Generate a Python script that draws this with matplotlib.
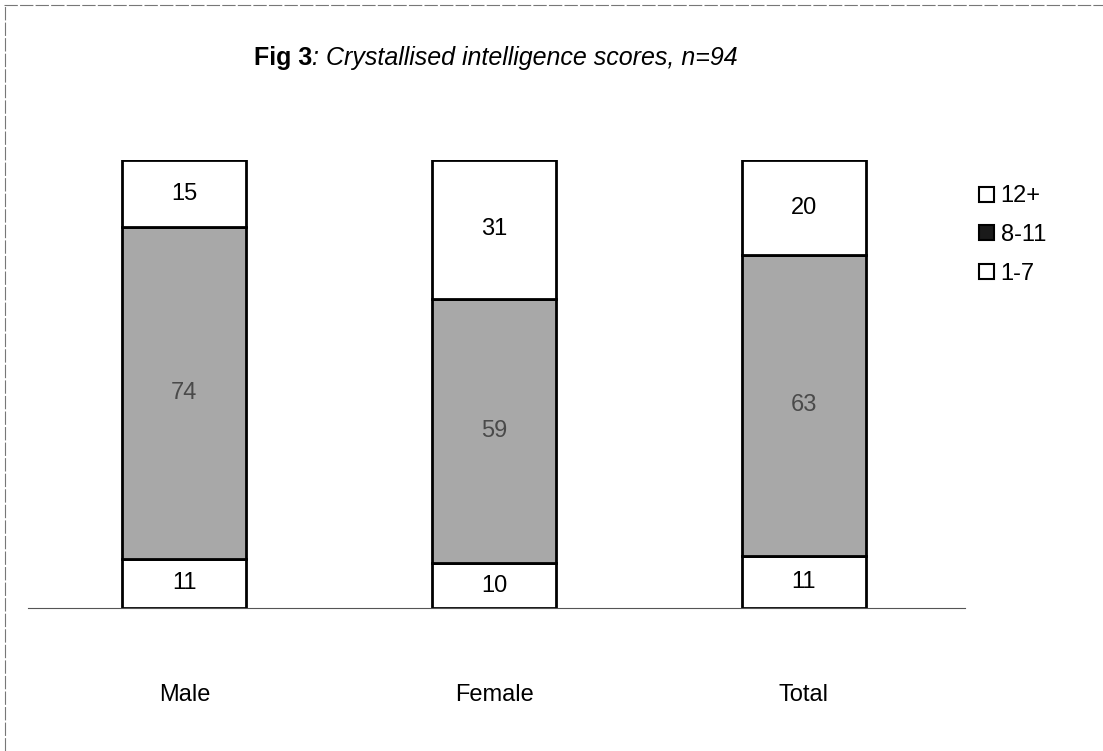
import numpy as np
import matplotlib
matplotlib.use("Agg")
import matplotlib.pyplot as plt
from matplotlib.patches import Patch
from matplotlib.lines import Line2D

# data (100% stacked)
groups = ["Male", "Female", "Total"]
low = [11, 10, 11]      # 1-7
mid = [74, 59, 63]      # 8-11
high = [15, 31, 20]     # 12+
seg_names = ["1-7", "8-11", "12+"]

plt.rcParams["font.family"] = ["Liberation Sans", "DejaVu Sans"]

fig = plt.figure(figsize=(11.03, 7.51), dpi=100)
ax = fig.add_axes([28 / 1103, 1 - 608 / 751, (965 - 28) / 1103, (608 - 160) / 751])

x = np.arange(len(groups))
vals = np.array([low, mid, high], dtype=float)
frac = vals / vals.sum(axis=0)
bottom = np.zeros(len(groups))
faces = ["white", "#a8a8a8", "white"]
txtcol = ["black", "#4a4a4a", "black"]
w = 0.40
for k in range(3):
    ax.bar(x, frac[k], w, bottom=bottom, color=faces[k], edgecolor="black", linewidth=2.0)
    for i in range(len(groups)):
        ax.text(x[i], bottom[i] + frac[k][i] / 2, "%d" % vals[k][i], ha="center", va="center",
                fontsize=17, color=txtcol[k])
    bottom += frac[k]

ax.set_xlim(-0.505, 2.52)
ax.set_ylim(0, 1)
ax.set_yticks([])
ax.set_xticks(x)
ax.set_xticklabels(groups, fontsize=17)
ax.tick_params(axis="x", length=0, pad=55)
for s in ["top", "right", "left"]:
    ax.spines[s].set_visible(False)
ax.spines["bottom"].set_color("#555555")
ax.spines["bottom"].set_linewidth(0.8)

# legend
handles = [Patch(facecolor="white", edgecolor="black", linewidth=1.5, label="12+"),
           Patch(facecolor="#1a1a1a", edgecolor="black", linewidth=1.5, label="8-11"),
           Patch(facecolor="white", edgecolor="black", linewidth=1.5, label="1-7")]
fig.legend(handles=handles, loc="upper left", bbox_to_anchor=(970 / 1103, 1 - 176 / 751),
           frameon=False, fontsize=17, handlelength=0.6, handleheight=0.6,
           handletextpad=0.3, labelspacing=0.7, borderaxespad=0)

# title with bold "Fig 3"
fig.text(0.283, 1 - 58 / 751, "Fig 3", fontsize=18, fontweight="bold", ha="right", va="center")
fig.text(0.283, 1 - 58 / 751, ": Crystallised intelligence scores, n=94", fontsize=18,
         style="italic", ha="left", va="center")

# scanned frame edges
fig.add_artist(Line2D([0.004, 1], [1 - 5 / 751, 1 - 5 / 751], transform=fig.transFigure,
                      color="#777777", lw=0.8, ls=(0, (12, 2))))
fig.add_artist(Line2D([5 / 1103, 5 / 1103], [0, 1 - 5 / 751], transform=fig.transFigure,
                      color="#777777", lw=0.8, ls=(0, (12, 2))))

fig.savefig("out.png", dpi=100)
